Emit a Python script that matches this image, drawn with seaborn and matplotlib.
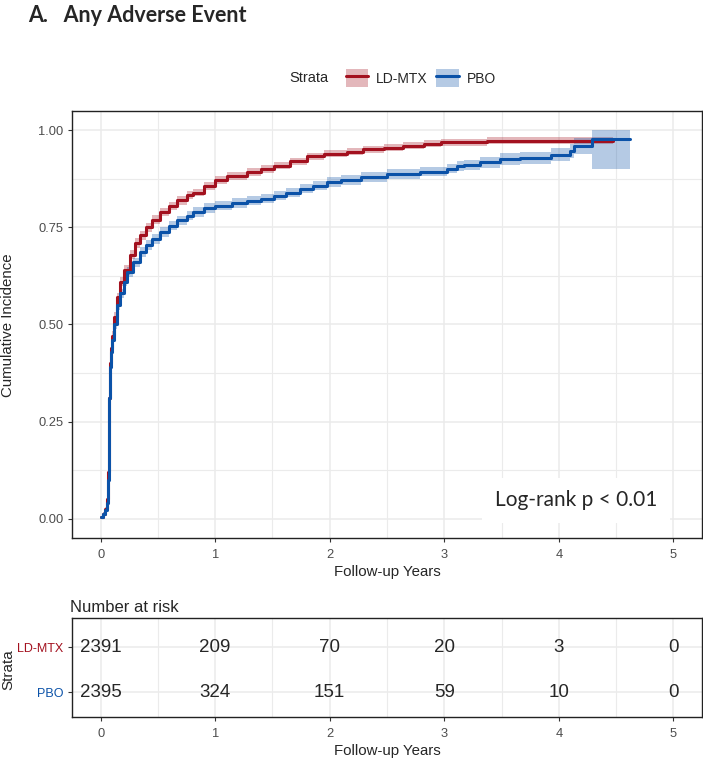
import matplotlib
matplotlib.use("Agg")
import matplotlib.pyplot as plt
import seaborn as sns
import pandas as pd
from matplotlib.lines import Line2D
from matplotlib.patches import Patch
from matplotlib.legend_handler import HandlerTuple
from matplotlib.ticker import MultipleLocator

# Cumulative incidence, LD-MTX arm
ldmtx_time = [0, 0.02, 0.04, 0.055, 0.065, 0.07, 0.075, 0.08, 0.09, 0.10, 0.12, 0.14,
              0.17, 0.20, 0.26, 0.30, 0.345, 0.40, 0.45, 0.52, 0.60, 0.67, 0.75, 0.81,
              0.90, 1.0, 1.1, 1.28, 1.4, 1.51, 1.65, 1.8, 1.95, 2.15, 2.29, 2.47, 2.64,
              2.82, 2.97, 3.37, 4.47]
ldmtx_est = [0.003, 0.012, 0.025, 0.05, 0.12, 0.22, 0.31, 0.40, 0.44, 0.47, 0.52, 0.57,
             0.61, 0.64, 0.68, 0.71, 0.73, 0.75, 0.77, 0.79, 0.805, 0.82, 0.833, 0.84,
             0.857, 0.873, 0.882, 0.893, 0.90, 0.909, 0.92, 0.933, 0.94, 0.945, 0.951,
             0.955, 0.96, 0.966, 0.97, 0.973, 0.973]
ldmtx_ci = [0.002, 0.004, 0.006, 0.008, 0.01, 0.012, 0.012, 0.012, 0.012, 0.012, 0.012,
            0.012, 0.012, 0.012, 0.012, 0.012, 0.012, 0.011, 0.011, 0.011, 0.011, 0.011,
            0.01, 0.01, 0.01, 0.01, 0.01, 0.01, 0.01, 0.009, 0.009, 0.009, 0.009, 0.009,
            0.009, 0.009, 0.009, 0.009, 0.009, 0.009, 0.009]

# Cumulative incidence, PBO arm
pbo_time = [0, 0.02, 0.04, 0.055, 0.065, 0.07, 0.075, 0.08, 0.09, 0.10, 0.12, 0.14, 0.17,
            0.20, 0.23, 0.28, 0.345, 0.40, 0.45, 0.52, 0.60, 0.67, 0.75, 0.81, 0.90, 1.0,
            1.15, 1.28, 1.4, 1.51, 1.62, 1.74, 1.85, 1.98, 2.1, 2.27, 2.5, 2.79, 3.02,
            3.11, 3.17, 3.31, 3.49, 3.66, 3.93, 4.1, 4.13, 4.29, 4.62]
pbo_est = [0.003, 0.012, 0.022, 0.04, 0.10, 0.20, 0.31, 0.39, 0.43, 0.46, 0.50, 0.55,
           0.58, 0.61, 0.635, 0.66, 0.687, 0.705, 0.72, 0.738, 0.755, 0.768, 0.78, 0.79,
           0.80, 0.806, 0.813, 0.819, 0.824, 0.832, 0.84, 0.85, 0.858, 0.867, 0.872, 0.88,
           0.888, 0.894, 0.901, 0.908, 0.911, 0.918, 0.927, 0.929, 0.937, 0.948, 0.96,
           0.979, 0.979]
pbo_lo = [0.001, 0.008, 0.016, 0.032, 0.09, 0.188, 0.298, 0.378, 0.418, 0.448, 0.488,
          0.538, 0.568, 0.598, 0.623, 0.648, 0.675, 0.693, 0.708, 0.726, 0.743, 0.756,
          0.768, 0.778, 0.788, 0.794, 0.801, 0.807, 0.812, 0.82, 0.828, 0.838, 0.846,
          0.855, 0.86, 0.868, 0.876, 0.882, 0.889, 0.895, 0.898, 0.904, 0.912, 0.913,
          0.92, 0.93, 0.94, 0.90, 0.90]
pbo_hi = [0.005, 0.016, 0.028, 0.048, 0.11, 0.212, 0.322, 0.402, 0.442, 0.472, 0.512,
          0.562, 0.592, 0.622, 0.647, 0.672, 0.699, 0.717, 0.732, 0.75, 0.767, 0.78,
          0.792, 0.802, 0.812, 0.818, 0.825, 0.831, 0.836, 0.844, 0.852, 0.862, 0.87,
          0.879, 0.884, 0.892, 0.9, 0.906, 0.913, 0.921, 0.924, 0.932, 0.942, 0.945,
          0.954, 0.966, 0.98, 1.0, 1.0]

# Number at risk table
risk_times = [0, 1, 2, 3, 4, 5]
ldmtx_risk = [2391, 209, 70, 20, 3, 0]
pbo_risk = [2395, 324, 151, 59, 10, 0]

strata = ["LD-MTX", "PBO"]
colors = {"LD-MTX": "#A3111F", "PBO": "#0B52A8"}

sns.set_theme(style="white")
plt.rcParams["font.family"] = ["Liberation Sans", "DejaVu Sans"]

df = pd.concat([
    pd.DataFrame({"time": ldmtx_time, "est": ldmtx_est, "strata": "LD-MTX",
                  "lo": [e - c for e, c in zip(ldmtx_est, ldmtx_ci)],
                  "hi": [e + c for e, c in zip(ldmtx_est, ldmtx_ci)]}),
    pd.DataFrame({"time": pbo_time, "est": pbo_est, "strata": "PBO",
                  "lo": pbo_lo, "hi": pbo_hi}),
], ignore_index=True)

fig = plt.figure(figsize=(7.03, 7.59), dpi=100)
grid_col = "#EBEBEB"
tick_col = "#4D4D4D"


def style_axes(ax):
    ax.set_xlim(-0.25, 5.25)
    ax.xaxis.set_major_locator(MultipleLocator(1))
    ax.xaxis.set_minor_locator(MultipleLocator(0.5))
    ax.grid(True, which="major", color=grid_col, lw=1.1)
    ax.grid(True, which="minor", color=grid_col, lw=0.8)
    ax.set_axisbelow(True)
    for s in ax.spines.values():
        s.set_visible(True)
        s.set_color("#222222")
        s.set_linewidth(1.0)
    ax.tick_params(axis="both", which="major", direction="out", length=3, width=0.8,
                   color="#333333", labelsize=9.3, labelcolor=tick_col, pad=3,
                   bottom=True, left=True)
    ax.tick_params(axis="x", which="major", pad=5)
    ax.tick_params(axis="both", which="minor", length=0)


# Main cumulative incidence panel
ax = fig.add_axes([72 / 703, 1 - 538 / 759, 630 / 703, 427 / 759])
for s in strata:
    d = df[df["strata"] == s]
    ax.fill_between(d["time"], d["lo"], d["hi"], step="post", color=colors[s],
                    alpha=0.3, lw=0)
sns.lineplot(data=df, x="time", y="est", hue="strata", palette=colors,
             estimator=None, drawstyle="steps-post", lw=2.2, legend=False, ax=ax)
style_axes(ax)
ax.set_ylim(-0.05, 1.05)
ax.yaxis.set_major_locator(MultipleLocator(0.25))
ax.yaxis.set_minor_locator(MultipleLocator(0.125))
ax.yaxis.set_major_formatter(plt.FormatStrFormatter("%.2f"))
ax.set_xlabel("Follow-up Years", fontsize=10.8, labelpad=3)
ax.set_ylabel("Cumulative Incidence", fontsize=10.8)
ax.yaxis.set_label_coords(15 / 703, 1 - 325 / 759, transform=fig.transFigure)

ax.text(0.80, 0.088, "Log-rank p < 0.01", transform=ax.transAxes, ha="center",
        va="center", fontsize=15, family=["Lato", "DejaVu Sans"],
        bbox=dict(boxstyle="square,pad=0.6", fc="white", ec="none"))

# Legend
fig.text(289 / 703, 1 - 78 / 759, "Strata", fontsize=10.5, ha="left", va="center")
handles = [(Patch(fc=colors[s], alpha=0.3, ec="none"),
            Line2D([], [], color=colors[s], lw=2.2)) for s in strata]
fig.legend(handles, strata, loc="center left", bbox_to_anchor=(333 / 703, 1 - 78 / 759),
           ncol=2, frameon=False, fontsize=10, handlelength=1.65, handleheight=1.65,
           handletextpad=0.55, columnspacing=0.6,
           handler_map={tuple: HandlerTuple(ndivide=1, pad=0)})

# Title
fig.text(28 / 703, 1 - 16 / 759, "A.   Any Adverse Event", fontsize=15.5,
         fontweight="bold", ha="left", va="center", family=["Lato", "DejaVu Sans"])

# Risk table
rax = fig.add_axes([72 / 703, 1 - 717 / 759, 630 / 703, 99 / 759])
style_axes(rax)
rax.set_ylim(-0.55, 1.65)
rax.set_yticks([1, 0])
rax.set_yticklabels(strata, fontsize=9)
for lbl, s in zip(rax.get_yticklabels(), strata):
    lbl.set_color(colors[s])
rax.grid(True, which="major", axis="y", color=grid_col, lw=1.1)
for t, a, b in zip(risk_times, ldmtx_risk, pbo_risk):
    rax.text(t, 1, str(a), ha="center", va="center", fontsize=13.5)
    rax.text(t, 0, str(b), ha="center", va="center", fontsize=13.5)
rax.set_xlabel("Follow-up Years", fontsize=10.8, labelpad=3)
rax.set_ylabel("Strata", fontsize=11)
rax.yaxis.set_label_coords(15 / 703, 1 - 670 / 759, transform=fig.transFigure)
rax.set_title("Number at risk", loc="left", fontsize=12, pad=4, x=-0.003)

fig.savefig("out.png", dpi=100)
